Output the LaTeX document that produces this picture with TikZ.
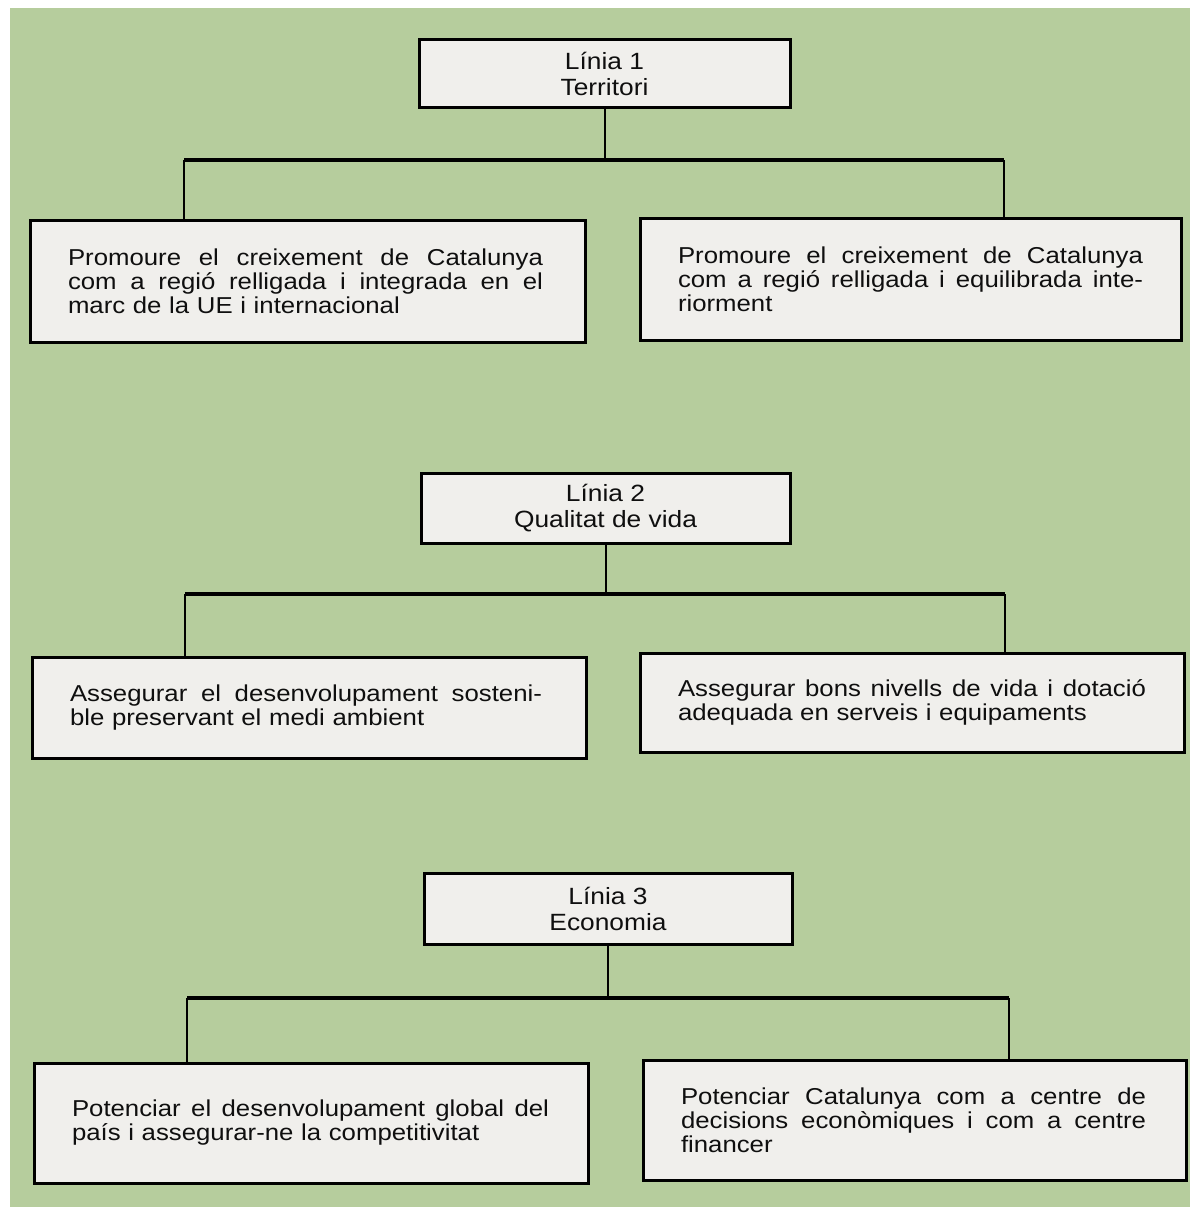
\documentclass[tikz,border=0pt]{standalone}
\usepackage{fontspec}
\setmainfont{Liberation Sans}
\newfontfamily\boxfont[FakeStretch=1.12]{Liberation Sans}
\definecolor{bggreen}{RGB}{182,205,157}
\definecolor{boxfill}{RGB}{240,239,236}
\definecolor{ink}{RGB}{15,15,15}
\newcommand{\jline}[2]{\leavevmode\hbox to #1{\spaceskip=0pt\xspaceskip=0pt #2}}
\begin{document}
\begin{tikzpicture}[x=1pt,y=-1pt,
  titlebox/.style={draw=black, line width=3pt, fill=boxfill, align=center,
    font=\boxfont\fontsize{23.5}{26}\selectfont, text=ink, inner sep=0pt},
  leafbox/.style={draw=black, line width=3pt, fill=boxfill, align=left,
    font=\boxfont\fontsize{23}{24}\selectfont, text=ink, inner xsep=38pt, inner ysep=0pt},
  bar/.style={line width=4pt, draw=black},
  stem/.style={line width=2pt, draw=black}]
% background
\fill[white] (0,0) rectangle (1194,1207);
\fill[bggreen] (10,8) rectangle (1190,1207);
\useasboundingbox (0,0) rectangle (1194,1207);

% ---------- Linia 1 ----------
\node[titlebox, minimum width=371pt, minimum height=67pt] (t1) at (604.5,73.5) {Línia 1\\Territori};
\node[leafbox, minimum width=555pt, minimum height=122pt, text width=479pt] (c1l) at (307.5,281)
  {\jline{475pt}{Promoure el creixement de Catalunya}\\
   \jline{475pt}{com a regió relligada i integrada en el}\\
   marc de la UE i internacional};
\node[leafbox, minimum width=541pt, minimum height=122pt, text width=465pt] (c1r) at (910.5,279)
  {\jline{465pt}{Promoure el creixement de Catalunya}\\
   \jline{465pt}{com a regió relligada i equilibrada inte-}\\
   riorment};
\coordinate (j1l) at (184,160);
\coordinate (j1r) at (1004,160);
\draw[stem] (t1.south) -- (t1.south |- j1l);
\draw[bar] (j1l) -- (j1r);
\draw[stem] (j1l) -- (j1l |- c1l.north);
\draw[stem] (j1r) -- (j1r |- c1r.north);

% ---------- Linia 2 ----------
\node[titlebox, minimum width=369pt, minimum height=70pt] (t2) at (605.5,508) {Línia 2\\Qualitat de vida};
\node[leafbox, minimum width=554pt, minimum height=101pt, text width=478pt] (c2l) at (309,707.5)
  {\jline{472pt}{Assegurar el desenvolupament sosteni-}\\
   ble preservant el medi ambient};
\node[leafbox, minimum width=544pt, minimum height=99pt, text width=468pt] (c2r) at (912,702.5)
  {\jline{468pt}{Assegurar bons nivells de vida i dotació}\\
   adequada en serveis i equipaments};
\coordinate (j2l) at (185,594);
\coordinate (j2r) at (1005,594);
\draw[stem] (t2.south) -- (t2.south |- j2l);
\draw[bar] (j2l) -- (j2r);
\draw[stem] (j2l) -- (j2l |- c2l.north);
\draw[stem] (j2r) -- (j2r |- c2r.north);

% ---------- Linia 3 ----------
\node[titlebox, minimum width=368pt, minimum height=71pt] (t3) at (608,908.5) {Línia 3\\Economia};
\node[leafbox, minimum width=554pt, minimum height=120pt, text width=478pt] (c3l) at (311,1123)
  {\jline{477pt}{Potenciar el desenvolupament global del}\\
   país i assegurar-ne la competitivitat};
\node[leafbox, minimum width=543pt, minimum height=120pt, text width=467pt] (c3r) at (914.5,1120)
  {\jline{465pt}{Potenciar Catalunya com a centre de}\\
   \jline{465pt}{decisions econòmiques i com a centre}\\
   financer};
\coordinate (j3l) at (187,998);
\coordinate (j3r) at (1009,998);
\draw[stem] (t3.south) -- (t3.south |- j3l);
\draw[bar] (j3l) -- (j3r);
\draw[stem] (j3l) -- (j3l |- c3l.north);
\draw[stem] (j3r) -- (j3r |- c3r.north);
\end{tikzpicture}
\end{document}
